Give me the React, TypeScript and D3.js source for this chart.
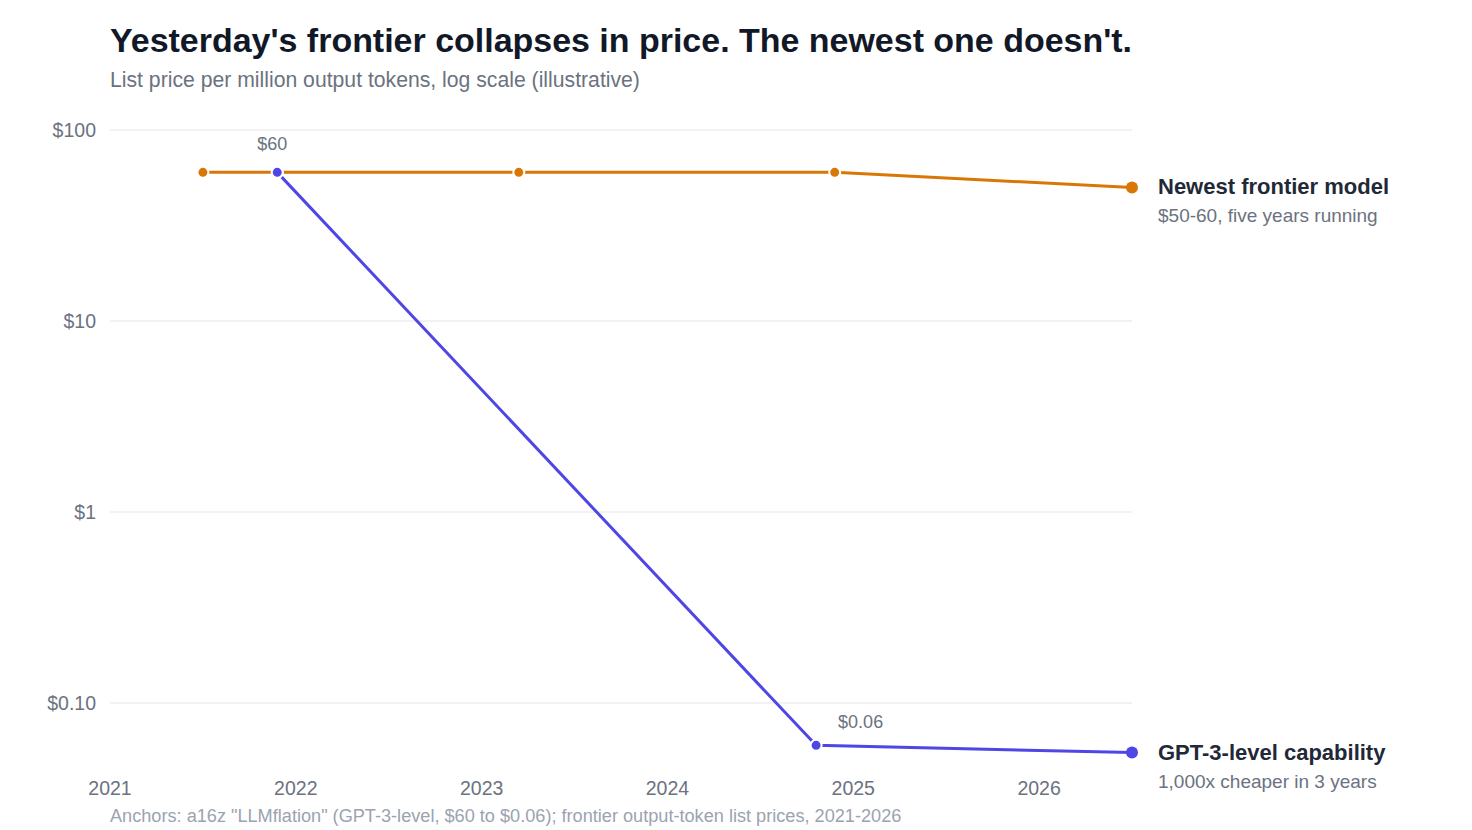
import React from "react";
import * as d3 from "d3";

const frontierYears = [2021.5, 2021.9, 2023.2, 2024.9, 2026.5];
const frontierPrices = [60, 60, 60, 60, 50];
const gpt3Years = [2021.9, 2024.8, 2026.5];
const gpt3Prices = [60, 0.06, 0.055];
const yTicks = [100, 10, 1, 0.1];
const yTickLabels = ["$100", "$10", "$1", "$0.10"];
const xTicks = [2021, 2022, 2023, 2024, 2025, 2026];

const W = 1472, H = 830;
const FONT = "'Liberation Sans', Arial, Helvetica, sans-serif";
const ORANGE = "#d97706";
const BLUE = "#4f46e5";

export default function App() {
  const x = d3.scaleLinear().domain([2021, 2026.5]).range([110, 1132]);
  const y = d3.scaleLog().domain([100, 0.1]).range([130, 703]);
  const line = d3.line<[number, number]>().x(d => x(d[0])).y(d => y(d[1]));
  const fData: [number, number][] = frontierYears.map((yr, i) => [yr, frontierPrices[i]]);
  const gData: [number, number][] = gpt3Years.map((yr, i) => [yr, gpt3Prices[i]]);
  const fLast = fData[fData.length - 1];
  const gLast = gData[gData.length - 1];
  return (
    <svg width={W} height={H} style={{ position: "absolute", left: 0, top: 0 }} fontFamily={FONT}>
      <rect width={W} height={H} fill="#fff" />
      <text x={110} y={52} fontSize={34} fontWeight={700} fill="#111827" textLength={1022} lengthAdjust="spacingAndGlyphs">Yesterday's frontier collapses in price. The newest one doesn't.</text>
      <text x={110} y={87} fontSize={21.2} fill="#6b7280">List price per million output tokens, log scale (illustrative)</text>
      {yTicks.map((t, i) => (
        <g key={t}>
          <line x1={110} x2={1132} y1={y(t)} y2={y(t)} stroke="#eeeeee" strokeWidth={1.5} />
          <text x={96} y={y(t) + 7} fontSize={19.5} fill="#6b7280" textAnchor="end">{yTickLabels[i]}</text>
        </g>
      ))}
      {xTicks.map(t => (
        <text key={t} x={x(t)} y={795} fontSize={19.5} fill="#6b7280" textAnchor="middle">{t}</text>
      ))}
      <path d={line(fData) || ""} fill="none" stroke={ORANGE} strokeWidth={3} />
      <path d={line(gData) || ""} fill="none" stroke={BLUE} strokeWidth={3} />
      {fData.slice(0, -1).map((d, i) => (
        <circle key={"f" + i} cx={x(d[0])} cy={y(d[1])} r={5.5} fill={ORANGE} stroke="#fff" strokeWidth={2} />
      ))}
      {gData.slice(0, -1).map((d, i) => (
        <circle key={"g" + i} cx={x(d[0])} cy={y(d[1])} r={5.5} fill={BLUE} stroke="#fff" strokeWidth={2} />
      ))}
      <circle cx={x(fLast[0])} cy={y(fLast[1])} r={6} fill={ORANGE} />
      <circle cx={x(gLast[0])} cy={y(gLast[1])} r={6} fill={BLUE} />
      <text x={x(gData[0][0]) - 5} y={y(gData[0][1]) - 22} fontSize={18} fill="#6b7280" textAnchor="middle">$60</text>
      <text x={x(gData[1][0]) + 22} y={y(gData[1][1]) - 17} fontSize={18} fill="#6b7280">$0.06</text>
      <text x={1158} y={y(fLast[1]) + 7} fontSize={22} fontWeight={700} fill="#1f2937">Newest frontier model</text>
      <text x={1158} y={y(fLast[1]) + 35} fontSize={19} fill="#6b7280">$50-60, five years running</text>
      <text x={1158} y={y(gLast[1]) + 7} fontSize={22} fontWeight={700} fill="#1f2937">GPT-3-level capability</text>
      <text x={1158} y={y(gLast[1]) + 35} fontSize={19} fill="#6b7280">1,000x cheaper in 3 years</text>
      <text x={110} y={822} fontSize={18.15} fill="#9ca3af">Anchors: a16z "LLMflation" (GPT-3-level, $60 to $0.06); frontier output-token list prices, 2021-2026</text>
    </svg>
  );
}
